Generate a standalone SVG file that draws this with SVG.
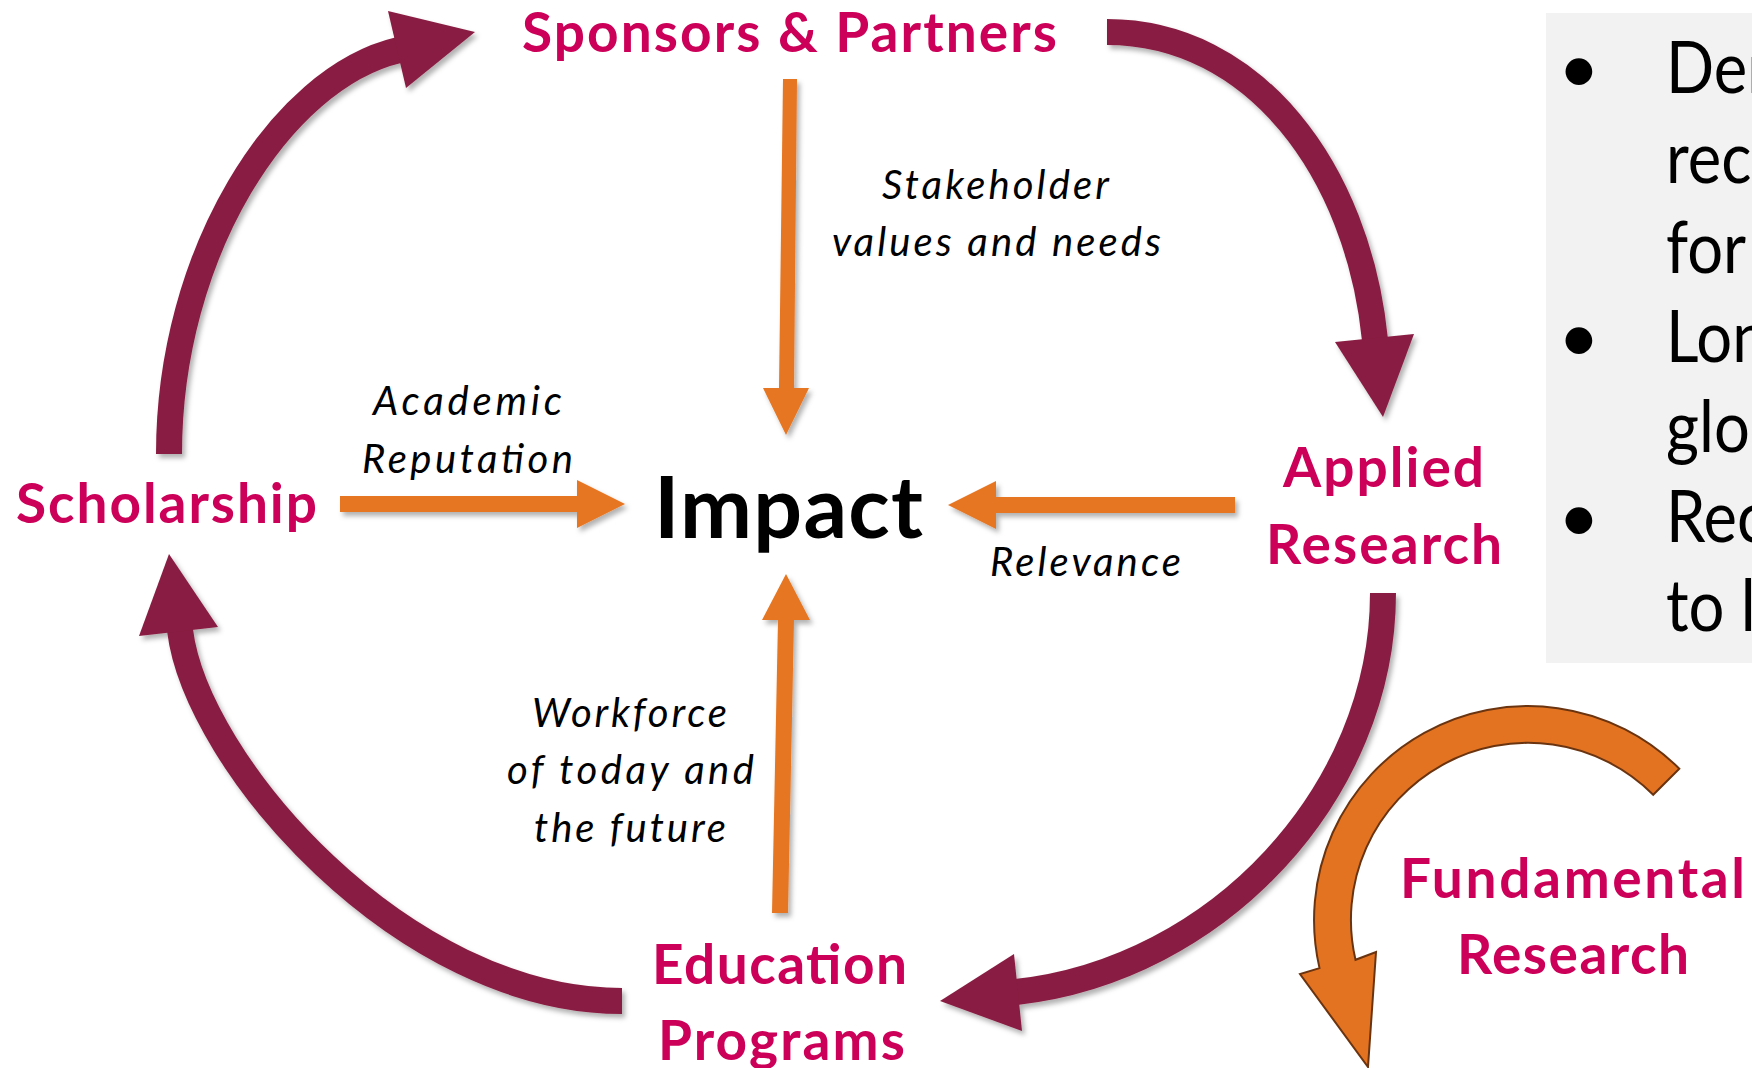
<svg xmlns="http://www.w3.org/2000/svg" width="1752" height="1068" viewBox="0 0 1752 1068">
<defs>
<filter id="sh" x="-20%" y="-20%" width="140%" height="140%"><feDropShadow dx="3" dy="4" stdDeviation="2.5" flood-color="#000" flood-opacity="0.3"/></filter>
</defs>
<style>
.node{font-family:Lato,"Open Sans",sans-serif;font-weight:bold;font-size:55px;fill:#CC0058}
.lbl{font-family:Lato,"Open Sans",sans-serif;font-style:italic;font-size:40px;fill:#000}
.arc{fill:none;stroke:#881E42;stroke-width:26}
.head{fill:#881E42}
.or{fill:#E67622}
.box{font-family:Lato,"Open Sans",sans-serif;font-size:72px;fill:#000}
</style>
<rect width="1752" height="1068" fill="#fff"/>

<g id="info-box">
<rect x="1546" y="13" width="206" height="650" fill="#F2F2F2"/>
<text class="box" x="1579" y="93" text-anchor="middle">•</text>
<text class="box" x="1579" y="362" text-anchor="middle">•</text>
<text class="box" x="1579" y="542" text-anchor="middle">•</text>
<g transform="translate(1666 0) scale(0.88 1)">
<text class="box" x="0" y="93">Dem</text>
<text class="box" x="0" y="183">rec</text>
<text class="box" x="0" y="273">for</text>
<text class="box" x="0" y="362">Lon</text>
<text class="box" x="0" y="452">glo</text>
<text class="box" x="0" y="542">Rec</text>
<text class="box" x="0" y="631">to l</text>
</g>
</g>

<g id="connectors">
<g filter="url(#sh)">
<path class="arc" d="M169,454 C169,254 280,78 399,50"/>
<polygon class="head" points="388,11 406,88 475,32"/>
</g>
<g filter="url(#sh)">
<path class="arc" d="M1107,32 C1254,32 1358,170 1375,340"/>
<polygon class="head" points="1335,342 1414,334 1383,417"/>
</g>
<g filter="url(#sh)">
<path class="arc" d="M1383,593 C1383,793 1217,970 1016,992"/>
<polygon class="head" points="1014,954 1022,1031 940,1001"/>
</g>
<g filter="url(#sh)">
<path class="arc" d="M622,1001 C402,1001 196,762 180,630"/>
<polygon class="head" points="139,636 218,627 169,554"/>
</g>
<g filter="url(#sh)">
<polygon class="or" points="783,79 797,79 794,388 809,388 786,435 763,388 779,388"/>
<polygon class="or" points="340,496 577,496 577,480 625,504 577,528 577,512 340,512"/>
<polygon class="or" points="1235,497 996,497 996,481 948,505 996,529 996,513 1235,513"/>
<polygon class="or" points="772,913 778,620 762,620 786,574 810,620 794,620 788,913"/>
</g>
<path d="M1679.3,768.7 A214,214 0 0 0 1319.5,968.1 L1300,974 L1368,1067 L1376,952 L1355.5,959.8 A177,177 0 0 1 1653.2,794.8 Z" fill="#E37321" stroke="#6B3410" stroke-width="2" stroke-linejoin="miter"/>
<text class="lbl" x="882" y="199" textLength="227">Stakeholder</text>
<text class="lbl" x="832" y="256" textLength="329">values and needs</text>
<text class="lbl" x="373" y="415" textLength="189">Academic</text>
<text class="lbl" x="362" y="473" textLength="211">Reputation</text>
<text class="lbl" x="990" y="576" textLength="191">Relevance</text>
<text class="lbl" x="532" y="727" textLength="195">Workforce</text>
<text class="lbl" x="507" y="784" textLength="247">of today and</text>
<text class="lbl" x="534" y="842" textLength="192">the future</text>
</g>

<g id="node-sponsors"><text class="node" x="522" y="52" textLength="535">Sponsors &amp; Partners</text></g>
<g id="node-scholarship"><text class="node" x="16" y="523" textLength="301">Scholarship</text></g>
<g id="node-applied"><text class="node" x="1283" y="487" textLength="201">Applied</text><text class="node" x="1266" y="564" textLength="236">Research</text></g>
<g id="node-education"><text class="node" x="652" y="984" textLength="255">Education</text><text class="node" x="658" y="1060" textLength="247">Programs</text></g>
<g id="node-fundamental"><text class="node" x="1400" y="898" textLength="345">Fundamental</text><text class="node" x="1457" y="974" textLength="232">Research</text></g>
<g id="node-impact"><text x="654" y="538" textLength="269" font-family="Lato,'Open Sans',sans-serif" font-weight="bold" font-size="86" fill="#000">Impact</text></g>
</svg>
